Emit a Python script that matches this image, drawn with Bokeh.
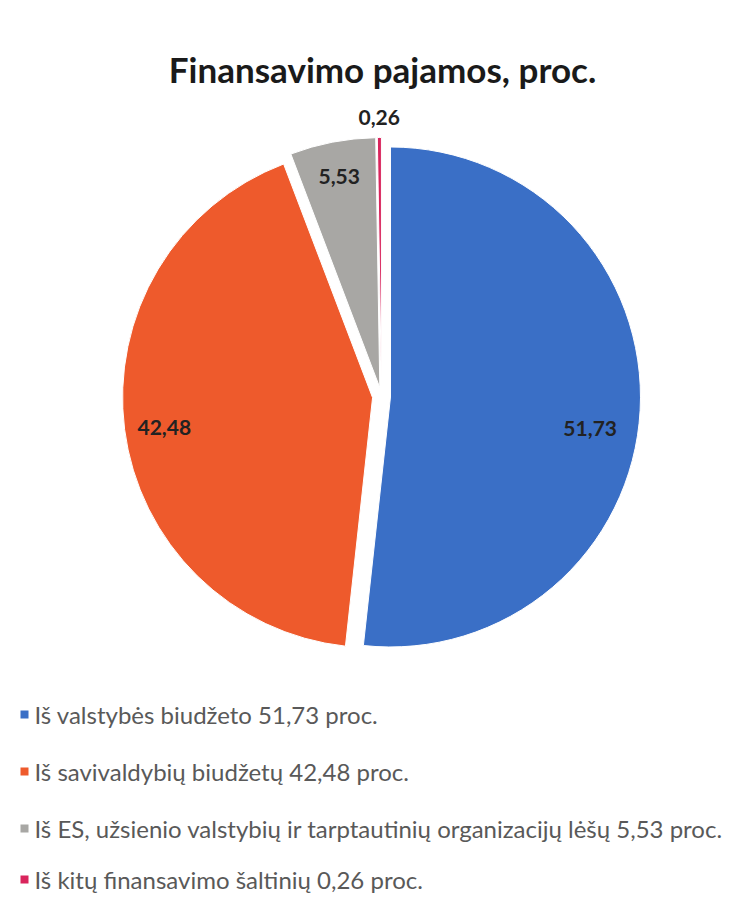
import math
from bokeh.plotting import figure
from bokeh.models import Range1d, ColumnDataSource
from bokeh.core.properties import value
from bokeh.embed import file_html
from bokeh.resources import INLINE

# ---- data ----
categories = [
    "Iš valstybės biudžeto",
    "Iš savivaldybių biudžetų",
    "Iš ES, užsienio valstybių ir tarptautinių organizacijų lėšų",
    "Iš kitų finansavimo šaltinių",
]
values = [51.73, 42.48, 5.53, 0.26]
value_labels = ["51,73", "42,48", "5,53", "0,26"]
colors = ["#3A6FC6", "#EE5A2C", "#A8A7A4", "#D9245C"]
title_text = "Finansavimo pajamos, proc."
legend_labels = [f"{c} {l} proc." for c, l in zip(categories, value_labels)]

# ---- layout ----
W, H = 727, 895
IMG_H = 911
OFF = 0
def Y(img_y):
    return IMG_H - img_y

cx, cy = 381, Y(396)
R = 250
explode = 9
label_r = [200, 210, 215, 270]
label_dy = [-21, -3, 0, 0]

p = figure(width=W, height=H,
           x_range=Range1d(OFF, OFF + W),
           y_range=Range1d(IMG_H - OFF - H, IMG_H - OFF),
           output_backend="svg", toolbar_location=None, min_border=0)
p.axis.visible = False
p.grid.visible = False
p.outline_line_color = None
p.background_fill_color = "white"
p.border_fill_color = "white"

total = sum(values)
xs, ys, starts, ends, lx, ly = [], [], [], [], [], []
cum = 0.0
for i, v in enumerate(values):
    f0 = cum / total
    f1 = (cum + v) / total
    cum += v
    a0 = math.pi / 2 - 2 * math.pi * f0
    a1 = math.pi / 2 - 2 * math.pi * f1
    m = (a0 + a1) / 2
    ox = cx + explode * math.cos(m)
    oy = cy + explode * math.sin(m)
    xs.append(ox); ys.append(oy); starts.append(a0); ends.append(a1)
    lx.append(ox + label_r[i] * math.cos(m))
    ly.append(oy + label_r[i] * math.sin(m) + label_dy[i])

src = ColumnDataSource(dict(x=xs, y=ys, start=starts, end=ends, color=colors))
p.wedge(x="x", y="y", radius=R, start_angle="start", end_angle="end", direction="clock",
        fill_color="color", line_color="white", line_width=1, source=src)

p.text(x=lx, y=ly, text=value_labels, text_align="center", text_baseline="middle",
       text_font=value("Lato"), text_font_style="bold", text_font_size="21px",
       text_color="#222222")

# title
p.text(x=[382], y=[Y(68)], text=[title_text], text_align="center", text_baseline="middle",
       text_font=value("Lato"), text_font_style="bold", text_font_size="35px",
       text_color="#1a1a1a")

# legend
leg_y = [Y(y) for y in (714, 771, 828, 879)]
p.scatter(x=[24] * len(categories), y=leg_y, marker="square", size=8,
          fill_color=colors, line_color=None)
p.text(x=[34] * len(categories), y=leg_y, text=legend_labels, text_align="left",
       text_baseline="middle", text_font=value("Lato"), text_font_size="24px",
       text_color="#595959")

open("out.html", "w").write(file_html(p, INLINE))
